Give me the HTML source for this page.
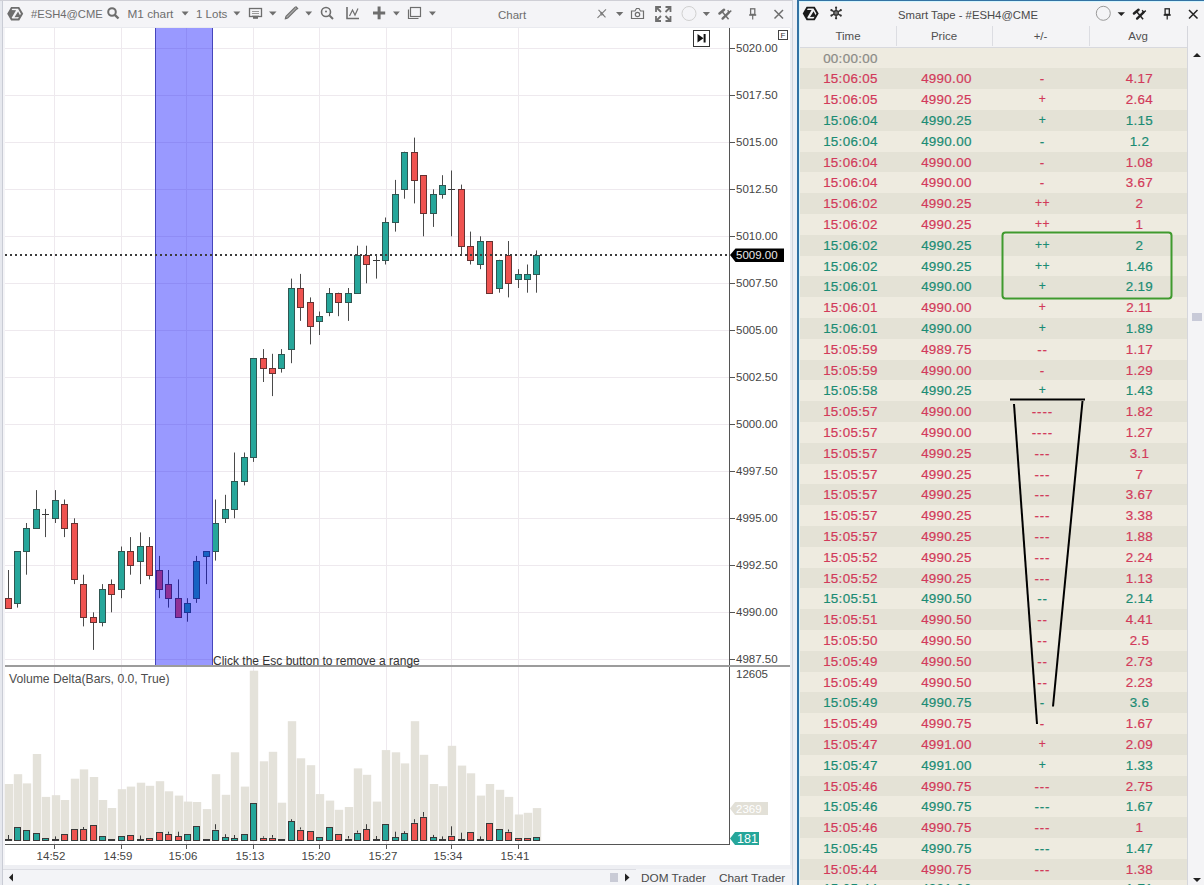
<!DOCTYPE html>
<html><head><meta charset="utf-8">
<style>
html,body{margin:0;padding:0;width:1204px;height:885px;overflow:hidden;background:#eef0f5;font-family:"Liberation Sans",sans-serif;}
svg{position:absolute;left:0;top:0}
.ax{font-family:"Liberation Sans",sans-serif;font-size:11.5px;fill:#444}
.tb{font-family:"Liberation Sans",sans-serif;font-size:11.5px;fill:#6d6d6d}
.ui{font-family:"Liberation Sans",sans-serif;font-size:12px}
#tape{position:absolute;left:797px;top:0;width:407px;height:885px;background:#f4f4f6;overflow:hidden}
#tape .bl{position:absolute;left:0;top:0;width:2px;height:885px;background:#3372a3}
#tape .bt{position:absolute;left:0;top:0;width:407px;height:1px;background:#3372a3}
#tape .ct{position:absolute;left:2px;top:1px;width:405px;height:1px;background:#d4f6ff}
#tape .cl{position:absolute;left:2px;top:1px;width:1px;height:884px;background:#d8f6ff}
.row{position:absolute;left:3px;width:388px;height:21px;font-size:13.4px;line-height:21px;letter-spacing:0.3px;-webkit-text-stroke:0.2px currentColor}
.row span{margin-left:2.4px}
.row span{position:absolute;top:0;width:96px;text-align:center}
.hdr{position:absolute;top:26px;height:21px;font-size:11.5px;color:#505050;line-height:21px;text-align:center}
.vd{position:absolute;top:26px;width:1px;height:20px;background:#dcdde2}
</style></head><body>
<svg width="797" height="885" viewBox="0 0 797 885">
<rect x="0" y="0" width="792" height="885" fill="#f4f4f7"/>
<rect x="0" y="0" width="2" height="885" fill="#e6e8ee"/>
<rect x="2" y="0" width="1" height="885" fill="#c9ccd5"/>
<rect x="0" y="0" width="792" height="1" fill="#cfcfd6"/>
<rect x="792" y="0" width="1" height="885" fill="#cfd4dc"/>
<rect x="790" y="28" width="2" height="837" fill="#eceef3"/>
<rect x="5" y="28" width="785" height="837" fill="#ffffff"/>
<rect x="3" y="27" width="787" height="1" fill="#e9eaef"/>
<rect x="3" y="865" width="789" height="20" fill="#f3f4f7"/>
<rect x="3" y="865" width="789" height="4" fill="#eeeff3"/>
<rect x="3" y="869" width="633" height="1" fill="#dcdde3"/>
<line x1="54.5" y1="28" x2="54.5" y2="665" stroke="#eee9ee" stroke-width="1"/>
<line x1="54.5" y1="667" x2="54.5" y2="844" stroke="#eee9ee" stroke-width="1"/>
<line x1="121.5" y1="28" x2="121.5" y2="665" stroke="#eee9ee" stroke-width="1"/>
<line x1="121.5" y1="667" x2="121.5" y2="844" stroke="#eee9ee" stroke-width="1"/>
<line x1="186.5" y1="28" x2="186.5" y2="665" stroke="#eee9ee" stroke-width="1"/>
<line x1="186.5" y1="667" x2="186.5" y2="844" stroke="#eee9ee" stroke-width="1"/>
<line x1="253.5" y1="28" x2="253.5" y2="665" stroke="#eee9ee" stroke-width="1"/>
<line x1="253.5" y1="667" x2="253.5" y2="844" stroke="#eee9ee" stroke-width="1"/>
<line x1="319.5" y1="28" x2="319.5" y2="665" stroke="#eee9ee" stroke-width="1"/>
<line x1="319.5" y1="667" x2="319.5" y2="844" stroke="#eee9ee" stroke-width="1"/>
<line x1="386.5" y1="28" x2="386.5" y2="665" stroke="#eee9ee" stroke-width="1"/>
<line x1="386.5" y1="667" x2="386.5" y2="844" stroke="#eee9ee" stroke-width="1"/>
<line x1="451.5" y1="28" x2="451.5" y2="665" stroke="#eee9ee" stroke-width="1"/>
<line x1="451.5" y1="667" x2="451.5" y2="844" stroke="#eee9ee" stroke-width="1"/>
<line x1="518.5" y1="28" x2="518.5" y2="665" stroke="#eee9ee" stroke-width="1"/>
<line x1="518.5" y1="667" x2="518.5" y2="844" stroke="#eee9ee" stroke-width="1"/>
<line x1="5" y1="48.5" x2="729" y2="48.5" stroke="#eee9ee" stroke-width="1"/>
<line x1="5" y1="95.5" x2="729" y2="95.5" stroke="#eee9ee" stroke-width="1"/>
<line x1="5" y1="142.5" x2="729" y2="142.5" stroke="#eee9ee" stroke-width="1"/>
<line x1="5" y1="189.5" x2="729" y2="189.5" stroke="#eee9ee" stroke-width="1"/>
<line x1="5" y1="236.5" x2="729" y2="236.5" stroke="#eee9ee" stroke-width="1"/>
<line x1="5" y1="283.5" x2="729" y2="283.5" stroke="#eee9ee" stroke-width="1"/>
<line x1="5" y1="330.5" x2="729" y2="330.5" stroke="#eee9ee" stroke-width="1"/>
<line x1="5" y1="377.5" x2="729" y2="377.5" stroke="#eee9ee" stroke-width="1"/>
<line x1="5" y1="424.5" x2="729" y2="424.5" stroke="#eee9ee" stroke-width="1"/>
<line x1="5" y1="471.5" x2="729" y2="471.5" stroke="#eee9ee" stroke-width="1"/>
<line x1="5" y1="518.5" x2="729" y2="518.5" stroke="#eee9ee" stroke-width="1"/>
<line x1="5" y1="565.5" x2="729" y2="565.5" stroke="#eee9ee" stroke-width="1"/>
<line x1="5" y1="612.5" x2="729" y2="612.5" stroke="#eee9ee" stroke-width="1"/>
<line x1="5" y1="659.5" x2="729" y2="659.5" stroke="#eee9ee" stroke-width="1"/>
<line x1="8.5" y1="570.0" x2="8.5" y2="607.6" stroke="#4a4a4a" stroke-width="1"/>
<rect x="5.5" y="598.5" width="6" height="10" fill="#ef5350" stroke="#663232" stroke-width="1"/>
<line x1="17.5" y1="551.2" x2="17.5" y2="607.6" stroke="#4a4a4a" stroke-width="1"/>
<rect x="14.5" y="551.5" width="6" height="52" fill="#26a69a" stroke="#2f5752" stroke-width="1"/>
<line x1="26.5" y1="523.0" x2="26.5" y2="574.7" stroke="#4a4a4a" stroke-width="1"/>
<rect x="23.5" y="528.5" width="6" height="23" fill="#26a69a" stroke="#2f5752" stroke-width="1"/>
<line x1="36.5" y1="490.1" x2="36.5" y2="527.7" stroke="#4a4a4a" stroke-width="1"/>
<rect x="33.5" y="509.5" width="6" height="19" fill="#26a69a" stroke="#2f5752" stroke-width="1"/>
<line x1="45.5" y1="508.9" x2="45.5" y2="537.1" stroke="#4a4a4a" stroke-width="1"/>
<line x1="42" y1="514.5" x2="49" y2="514.5" stroke="#3a3a3a" stroke-width="1"/>
<line x1="55.5" y1="490.1" x2="55.5" y2="523.0" stroke="#4a4a4a" stroke-width="1"/>
<rect x="52.5" y="500.5" width="6" height="18" fill="#26a69a" stroke="#2f5752" stroke-width="1"/>
<line x1="64.5" y1="499.5" x2="64.5" y2="537.1" stroke="#4a4a4a" stroke-width="1"/>
<rect x="61.5" y="504.5" width="6" height="24" fill="#ef5350" stroke="#663232" stroke-width="1"/>
<line x1="74.5" y1="518.3" x2="74.5" y2="584.1" stroke="#4a4a4a" stroke-width="1"/>
<rect x="71.5" y="523.5" width="6" height="56" fill="#ef5350" stroke="#663232" stroke-width="1"/>
<line x1="83.5" y1="574.7" x2="83.5" y2="626.4" stroke="#4a4a4a" stroke-width="1"/>
<rect x="80.5" y="584.5" width="6" height="33" fill="#ef5350" stroke="#663232" stroke-width="1"/>
<line x1="93.5" y1="612.3" x2="93.5" y2="649.9" stroke="#4a4a4a" stroke-width="1"/>
<rect x="90.5" y="617.5" width="6" height="5" fill="#ef5350" stroke="#663232" stroke-width="1"/>
<line x1="102.5" y1="584.1" x2="102.5" y2="626.4" stroke="#4a4a4a" stroke-width="1"/>
<rect x="99.5" y="589.5" width="6" height="33" fill="#26a69a" stroke="#2f5752" stroke-width="1"/>
<line x1="111.5" y1="579.4" x2="111.5" y2="612.3" stroke="#4a4a4a" stroke-width="1"/>
<rect x="108.5" y="584.5" width="6" height="10" fill="#ef5350" stroke="#663232" stroke-width="1"/>
<line x1="121.5" y1="546.5" x2="121.5" y2="598.2" stroke="#4a4a4a" stroke-width="1"/>
<rect x="118.5" y="551.5" width="6" height="38" fill="#26a69a" stroke="#2f5752" stroke-width="1"/>
<line x1="130.5" y1="537.1" x2="130.5" y2="574.7" stroke="#4a4a4a" stroke-width="1"/>
<rect x="127.5" y="551.5" width="6" height="14" fill="#ef5350" stroke="#663232" stroke-width="1"/>
<line x1="140.5" y1="532.4" x2="140.5" y2="584.1" stroke="#4a4a4a" stroke-width="1"/>
<rect x="137.5" y="546.5" width="6" height="15" fill="#26a69a" stroke="#2f5752" stroke-width="1"/>
<line x1="149.5" y1="537.1" x2="149.5" y2="579.4" stroke="#4a4a4a" stroke-width="1"/>
<rect x="146.5" y="546.5" width="6" height="29" fill="#ef5350" stroke="#663232" stroke-width="1"/>
<line x1="159.5" y1="555.9" x2="159.5" y2="598.2" stroke="#4a4a4a" stroke-width="1"/>
<rect x="156.5" y="570.5" width="6" height="19" fill="#ef5350" stroke="#663232" stroke-width="1"/>
<line x1="168.5" y1="570.0" x2="168.5" y2="607.6" stroke="#4a4a4a" stroke-width="1"/>
<rect x="165.5" y="584.5" width="6" height="14" fill="#ef5350" stroke="#663232" stroke-width="1"/>
<line x1="178.5" y1="579.4" x2="178.5" y2="617.0" stroke="#4a4a4a" stroke-width="1"/>
<rect x="175.5" y="598.5" width="6" height="19" fill="#ef5350" stroke="#663232" stroke-width="1"/>
<line x1="187.5" y1="598.2" x2="187.5" y2="621.7" stroke="#4a4a4a" stroke-width="1"/>
<rect x="184.5" y="603.5" width="6" height="9" fill="#26a69a" stroke="#2f5752" stroke-width="1"/>
<line x1="196.5" y1="555.9" x2="196.5" y2="602.9" stroke="#4a4a4a" stroke-width="1"/>
<rect x="193.5" y="561.5" width="6" height="37" fill="#26a69a" stroke="#2f5752" stroke-width="1"/>
<line x1="206.5" y1="551.2" x2="206.5" y2="584.1" stroke="#4a4a4a" stroke-width="1"/>
<rect x="203.5" y="551.5" width="6" height="5" fill="#26a69a" stroke="#2f5752" stroke-width="1"/>
<line x1="215.5" y1="499.5" x2="215.5" y2="560.6" stroke="#4a4a4a" stroke-width="1"/>
<rect x="212.5" y="523.5" width="6" height="28" fill="#26a69a" stroke="#2f5752" stroke-width="1"/>
<line x1="225.5" y1="494.8" x2="225.5" y2="523.0" stroke="#4a4a4a" stroke-width="1"/>
<rect x="222.5" y="509.5" width="6" height="9" fill="#26a69a" stroke="#2f5752" stroke-width="1"/>
<line x1="234.5" y1="452.5" x2="234.5" y2="518.3" stroke="#4a4a4a" stroke-width="1"/>
<rect x="231.5" y="481.5" width="6" height="28" fill="#26a69a" stroke="#2f5752" stroke-width="1"/>
<line x1="244.5" y1="452.5" x2="244.5" y2="485.4" stroke="#4a4a4a" stroke-width="1"/>
<rect x="241.5" y="457.5" width="6" height="24" fill="#26a69a" stroke="#2f5752" stroke-width="1"/>
<line x1="253.5" y1="358.5" x2="253.5" y2="461.9" stroke="#4a4a4a" stroke-width="1"/>
<rect x="250.5" y="358.5" width="6" height="99" fill="#26a69a" stroke="#2f5752" stroke-width="1"/>
<line x1="263.5" y1="349.1" x2="263.5" y2="382.0" stroke="#4a4a4a" stroke-width="1"/>
<rect x="260.5" y="358.5" width="6" height="10" fill="#ef5350" stroke="#663232" stroke-width="1"/>
<line x1="272.5" y1="353.8" x2="272.5" y2="396.1" stroke="#4a4a4a" stroke-width="1"/>
<rect x="269.5" y="368.5" width="6" height="5" fill="#ef5350" stroke="#663232" stroke-width="1"/>
<line x1="281.5" y1="349.1" x2="281.5" y2="372.6" stroke="#4a4a4a" stroke-width="1"/>
<rect x="278.5" y="354.5" width="6" height="14" fill="#26a69a" stroke="#2f5752" stroke-width="1"/>
<line x1="291.5" y1="278.6" x2="291.5" y2="363.2" stroke="#4a4a4a" stroke-width="1"/>
<rect x="288.5" y="288.5" width="6" height="61" fill="#26a69a" stroke="#2f5752" stroke-width="1"/>
<line x1="300.5" y1="273.9" x2="300.5" y2="320.9" stroke="#4a4a4a" stroke-width="1"/>
<rect x="297.5" y="288.5" width="6" height="19" fill="#ef5350" stroke="#663232" stroke-width="1"/>
<line x1="310.5" y1="297.4" x2="310.5" y2="344.4" stroke="#4a4a4a" stroke-width="1"/>
<rect x="307.5" y="302.5" width="6" height="24" fill="#ef5350" stroke="#663232" stroke-width="1"/>
<line x1="319.5" y1="311.5" x2="319.5" y2="335.0" stroke="#4a4a4a" stroke-width="1"/>
<rect x="316.5" y="316.5" width="6" height="5" fill="#26a69a" stroke="#2f5752" stroke-width="1"/>
<line x1="329.5" y1="288.0" x2="329.5" y2="316.2" stroke="#4a4a4a" stroke-width="1"/>
<rect x="326.5" y="293.5" width="6" height="19" fill="#26a69a" stroke="#2f5752" stroke-width="1"/>
<line x1="338.5" y1="292.7" x2="338.5" y2="316.2" stroke="#4a4a4a" stroke-width="1"/>
<rect x="335.5" y="293.5" width="6" height="9" fill="#ef5350" stroke="#663232" stroke-width="1"/>
<line x1="348.5" y1="288.0" x2="348.5" y2="320.9" stroke="#4a4a4a" stroke-width="1"/>
<rect x="345.5" y="293.5" width="6" height="9" fill="#26a69a" stroke="#2f5752" stroke-width="1"/>
<line x1="357.5" y1="245.7" x2="357.5" y2="292.7" stroke="#4a4a4a" stroke-width="1"/>
<rect x="354.5" y="255.5" width="6" height="38" fill="#26a69a" stroke="#2f5752" stroke-width="1"/>
<line x1="366.5" y1="245.7" x2="366.5" y2="283.3" stroke="#4a4a4a" stroke-width="1"/>
<rect x="363.5" y="255.5" width="6" height="9" fill="#ef5350" stroke="#663232" stroke-width="1"/>
<line x1="376.5" y1="255.1" x2="376.5" y2="278.6" stroke="#4a4a4a" stroke-width="1"/>
<line x1="373" y1="260.5" x2="380" y2="260.5" stroke="#3a3a3a" stroke-width="1"/>
<line x1="385.5" y1="217.5" x2="385.5" y2="264.5" stroke="#4a4a4a" stroke-width="1"/>
<rect x="382.5" y="222.5" width="6" height="38" fill="#26a69a" stroke="#2f5752" stroke-width="1"/>
<line x1="395.5" y1="179.9" x2="395.5" y2="231.6" stroke="#4a4a4a" stroke-width="1"/>
<rect x="392.5" y="194.5" width="6" height="28" fill="#26a69a" stroke="#2f5752" stroke-width="1"/>
<line x1="404.5" y1="151.7" x2="404.5" y2="198.7" stroke="#4a4a4a" stroke-width="1"/>
<rect x="401.5" y="152.5" width="6" height="37" fill="#26a69a" stroke="#2f5752" stroke-width="1"/>
<line x1="414.5" y1="137.6" x2="414.5" y2="203.4" stroke="#4a4a4a" stroke-width="1"/>
<rect x="411.5" y="152.5" width="6" height="28" fill="#ef5350" stroke="#663232" stroke-width="1"/>
<line x1="423.5" y1="175.2" x2="423.5" y2="236.3" stroke="#4a4a4a" stroke-width="1"/>
<rect x="420.5" y="175.5" width="6" height="38" fill="#ef5350" stroke="#663232" stroke-width="1"/>
<line x1="433.5" y1="189.3" x2="433.5" y2="226.9" stroke="#4a4a4a" stroke-width="1"/>
<rect x="430.5" y="194.5" width="6" height="19" fill="#26a69a" stroke="#2f5752" stroke-width="1"/>
<line x1="442.5" y1="175.2" x2="442.5" y2="198.7" stroke="#4a4a4a" stroke-width="1"/>
<rect x="439.5" y="185.5" width="6" height="9" fill="#26a69a" stroke="#2f5752" stroke-width="1"/>
<line x1="451.5" y1="170.5" x2="451.5" y2="236.3" stroke="#4a4a4a" stroke-width="1"/>
<line x1="448" y1="189.5" x2="455" y2="189.5" stroke="#3a3a3a" stroke-width="1"/>
<line x1="461.5" y1="184.6" x2="461.5" y2="255.1" stroke="#4a4a4a" stroke-width="1"/>
<rect x="458.5" y="189.5" width="6" height="57" fill="#ef5350" stroke="#663232" stroke-width="1"/>
<line x1="470.5" y1="231.6" x2="470.5" y2="264.5" stroke="#4a4a4a" stroke-width="1"/>
<rect x="467.5" y="246.5" width="6" height="14" fill="#ef5350" stroke="#663232" stroke-width="1"/>
<line x1="480.5" y1="236.3" x2="480.5" y2="269.2" stroke="#4a4a4a" stroke-width="1"/>
<rect x="477.5" y="241.5" width="6" height="23" fill="#26a69a" stroke="#2f5752" stroke-width="1"/>
<line x1="489.5" y1="241.0" x2="489.5" y2="292.7" stroke="#4a4a4a" stroke-width="1"/>
<rect x="486.5" y="241.5" width="6" height="52" fill="#ef5350" stroke="#663232" stroke-width="1"/>
<line x1="499.5" y1="259.8" x2="499.5" y2="292.7" stroke="#4a4a4a" stroke-width="1"/>
<rect x="496.5" y="260.5" width="6" height="28" fill="#26a69a" stroke="#2f5752" stroke-width="1"/>
<line x1="508.5" y1="241.0" x2="508.5" y2="297.4" stroke="#4a4a4a" stroke-width="1"/>
<rect x="505.5" y="255.5" width="6" height="28" fill="#ef5350" stroke="#663232" stroke-width="1"/>
<line x1="518.5" y1="269.2" x2="518.5" y2="288.0" stroke="#4a4a4a" stroke-width="1"/>
<rect x="515.5" y="274.5" width="6" height="5" fill="#26a69a" stroke="#2f5752" stroke-width="1"/>
<line x1="527.5" y1="264.5" x2="527.5" y2="292.7" stroke="#4a4a4a" stroke-width="1"/>
<rect x="524.5" y="274.5" width="6" height="5" fill="#26a69a" stroke="#2f5752" stroke-width="1"/>
<line x1="536.5" y1="250.4" x2="536.5" y2="292.7" stroke="#4a4a4a" stroke-width="1"/>
<rect x="533.5" y="255.5" width="6" height="19" fill="#26a69a" stroke="#2f5752" stroke-width="1"/>
<rect x="155" y="28" width="58" height="637" fill="#0000ff" fill-opacity="0.4"/>
<line x1="155.5" y1="28" x2="155.5" y2="665" stroke="#4646bc" stroke-width="1"/>
<line x1="212.5" y1="28" x2="212.5" y2="665" stroke="#4646bc" stroke-width="1"/>
<line x1="5" y1="255" x2="729" y2="255" stroke="#3c3c3c" stroke-width="2" stroke-dasharray="2,3"/>
<line x1="729.5" y1="28" x2="729.5" y2="844" stroke="#555" stroke-width="1"/>
<line x1="730" y1="48.5" x2="735" y2="48.5" stroke="#555" stroke-width="1"/>
<text x="736" y="51.7" class="ax">5020.00</text>
<line x1="730" y1="95.5" x2="735" y2="95.5" stroke="#555" stroke-width="1"/>
<text x="736" y="98.7" class="ax">5017.50</text>
<line x1="730" y1="142.5" x2="735" y2="142.5" stroke="#555" stroke-width="1"/>
<text x="736" y="145.7" class="ax">5015.00</text>
<line x1="730" y1="189.5" x2="735" y2="189.5" stroke="#555" stroke-width="1"/>
<text x="736" y="192.7" class="ax">5012.50</text>
<line x1="730" y1="236.5" x2="735" y2="236.5" stroke="#555" stroke-width="1"/>
<text x="736" y="239.7" class="ax">5010.00</text>
<line x1="730" y1="283.5" x2="735" y2="283.5" stroke="#555" stroke-width="1"/>
<text x="736" y="286.7" class="ax">5007.50</text>
<line x1="730" y1="330.5" x2="735" y2="330.5" stroke="#555" stroke-width="1"/>
<text x="736" y="333.7" class="ax">5005.00</text>
<line x1="730" y1="377.5" x2="735" y2="377.5" stroke="#555" stroke-width="1"/>
<text x="736" y="380.7" class="ax">5002.50</text>
<line x1="730" y1="424.5" x2="735" y2="424.5" stroke="#555" stroke-width="1"/>
<text x="736" y="427.7" class="ax">5000.00</text>
<line x1="730" y1="471.5" x2="735" y2="471.5" stroke="#555" stroke-width="1"/>
<text x="736" y="474.7" class="ax">4997.50</text>
<line x1="730" y1="518.5" x2="735" y2="518.5" stroke="#555" stroke-width="1"/>
<text x="736" y="521.7" class="ax">4995.00</text>
<line x1="730" y1="565.5" x2="735" y2="565.5" stroke="#555" stroke-width="1"/>
<text x="736" y="568.7" class="ax">4992.50</text>
<line x1="730" y1="612.5" x2="735" y2="612.5" stroke="#555" stroke-width="1"/>
<text x="736" y="615.7" class="ax">4990.00</text>
<line x1="730" y1="659.5" x2="735" y2="659.5" stroke="#555" stroke-width="1"/>
<text x="736" y="662.7" class="ax">4987.50</text>
<path d="M730,255 L735.5,248.5 L784,248.5 L784,262 L735.5,262 Z" fill="#000"/>
<text x="736" y="258.8" class="ax" style="fill:#e8e8e8">5009.00</text>
<rect x="5" y="665" width="785" height="2" fill="#9c9c9c"/>
<text x="213" y="664.5" class="ax" style="font-size:12px;fill:#333">Click the Esc button to remove a range</text>
<text x="9" y="682.5" class="ax" style="font-size:12.2px;fill:#4d4d4d">Volume Delta(Bars, 0.0, True)</text>
<text x="736" y="678.3" class="ax">12605</text>
<rect x="4.8" y="784.0" width="8.4" height="57.0" fill="#e4e2da"/>
<rect x="13.8" y="774.2" width="8.4" height="66.8" fill="#e4e2da"/>
<rect x="22.8" y="783.4" width="8.4" height="57.6" fill="#e4e2da"/>
<rect x="32.8" y="754.0" width="8.4" height="87.0" fill="#e4e2da"/>
<rect x="41.8" y="796.9" width="8.4" height="44.1" fill="#e4e2da"/>
<rect x="51.8" y="795.2" width="8.4" height="45.8" fill="#e4e2da"/>
<rect x="60.8" y="800.0" width="8.4" height="41.0" fill="#e4e2da"/>
<rect x="70.8" y="778.7" width="8.4" height="62.3" fill="#e4e2da"/>
<rect x="79.8" y="769.4" width="8.4" height="71.6" fill="#e4e2da"/>
<rect x="89.8" y="777.0" width="8.4" height="64.0" fill="#e4e2da"/>
<rect x="98.8" y="800.0" width="8.4" height="41.0" fill="#e4e2da"/>
<rect x="107.8" y="808.0" width="8.4" height="33.0" fill="#e4e2da"/>
<rect x="117.8" y="789.2" width="8.4" height="51.8" fill="#e4e2da"/>
<rect x="126.8" y="786.6" width="8.4" height="54.4" fill="#e4e2da"/>
<rect x="136.8" y="782.7" width="8.4" height="58.3" fill="#e4e2da"/>
<rect x="145.8" y="785.8" width="8.4" height="55.2" fill="#e4e2da"/>
<rect x="155.8" y="781.2" width="8.4" height="59.8" fill="#e4e2da"/>
<rect x="164.8" y="791.3" width="8.4" height="49.7" fill="#e4e2da"/>
<rect x="174.8" y="795.6" width="8.4" height="45.4" fill="#e4e2da"/>
<rect x="183.8" y="801.6" width="8.4" height="39.4" fill="#e4e2da"/>
<rect x="192.8" y="802.0" width="8.4" height="39.0" fill="#e4e2da"/>
<rect x="202.8" y="809.1" width="8.4" height="31.9" fill="#e4e2da"/>
<rect x="211.8" y="774.2" width="8.4" height="66.8" fill="#e4e2da"/>
<rect x="221.8" y="794.8" width="8.4" height="46.2" fill="#e4e2da"/>
<rect x="230.8" y="752.3" width="8.4" height="88.7" fill="#e4e2da"/>
<rect x="240.8" y="786.6" width="8.4" height="54.4" fill="#e4e2da"/>
<rect x="249.8" y="670.7" width="8.4" height="170.3" fill="#e4e2da"/>
<rect x="259.8" y="761.3" width="8.4" height="79.7" fill="#e4e2da"/>
<rect x="268.8" y="751.8" width="8.4" height="89.2" fill="#e4e2da"/>
<rect x="277.8" y="802.7" width="8.4" height="38.3" fill="#e4e2da"/>
<rect x="287.8" y="721.2" width="8.4" height="119.8" fill="#e4e2da"/>
<rect x="296.8" y="758.3" width="8.4" height="82.7" fill="#e4e2da"/>
<rect x="306.8" y="765.2" width="8.4" height="75.8" fill="#e4e2da"/>
<rect x="315.8" y="794.1" width="8.4" height="46.9" fill="#e4e2da"/>
<rect x="325.8" y="800.6" width="8.4" height="40.4" fill="#e4e2da"/>
<rect x="334.8" y="809.8" width="8.4" height="31.2" fill="#e4e2da"/>
<rect x="344.8" y="807.0" width="8.4" height="34.0" fill="#e4e2da"/>
<rect x="353.8" y="768.4" width="8.4" height="72.6" fill="#e4e2da"/>
<rect x="362.8" y="774.8" width="8.4" height="66.2" fill="#e4e2da"/>
<rect x="372.8" y="801.6" width="8.4" height="39.4" fill="#e4e2da"/>
<rect x="381.8" y="750.1" width="8.4" height="90.9" fill="#e4e2da"/>
<rect x="391.8" y="752.3" width="8.4" height="88.7" fill="#e4e2da"/>
<rect x="400.8" y="763.4" width="8.4" height="77.6" fill="#e4e2da"/>
<rect x="410.8" y="721.2" width="8.4" height="119.8" fill="#e4e2da"/>
<rect x="419.8" y="754.8" width="8.4" height="86.2" fill="#e4e2da"/>
<rect x="429.8" y="784.0" width="8.4" height="57.0" fill="#e4e2da"/>
<rect x="438.8" y="786.2" width="8.4" height="54.8" fill="#e4e2da"/>
<rect x="447.8" y="745.8" width="8.4" height="95.2" fill="#e4e2da"/>
<rect x="457.8" y="765.6" width="8.4" height="75.4" fill="#e4e2da"/>
<rect x="466.8" y="773.3" width="8.4" height="67.7" fill="#e4e2da"/>
<rect x="476.8" y="795.6" width="8.4" height="45.4" fill="#e4e2da"/>
<rect x="485.8" y="784.0" width="8.4" height="57.0" fill="#e4e2da"/>
<rect x="495.8" y="789.8" width="8.4" height="51.2" fill="#e4e2da"/>
<rect x="504.8" y="796.9" width="8.4" height="44.1" fill="#e4e2da"/>
<rect x="514.8" y="814.5" width="8.4" height="26.5" fill="#e4e2da"/>
<rect x="523.8" y="812.8" width="8.4" height="28.2" fill="#e4e2da"/>
<rect x="532.8" y="808.1" width="8.4" height="32.9" fill="#e4e2da"/>
<line x1="8.5" y1="835" x2="8.5" y2="839" stroke="#3a3a3a" stroke-width="1"/>
<rect x="5" y="839" width="7" height="2" fill="#3a3a3a"/>
<rect x="14.5" y="827.5" width="6" height="13.0" fill="#26a69a" stroke="#3a3a3a" stroke-width="1"/>
<rect x="23.5" y="830.5" width="6" height="10.0" fill="#26a69a" stroke="#3a3a3a" stroke-width="1"/>
<rect x="33.5" y="833.5" width="6" height="7.0" fill="#26a69a" stroke="#3a3a3a" stroke-width="1"/>
<rect x="42.5" y="838.5" width="6" height="2.0" fill="#26a69a" stroke="#3a3a3a" stroke-width="1"/>
<line x1="55.5" y1="836.4" x2="55.5" y2="839" stroke="#3a3a3a" stroke-width="1"/>
<rect x="52" y="839" width="7" height="2" fill="#3a3a3a"/>
<rect x="61.5" y="834.5" width="6" height="6.0" fill="#ef5350" stroke="#3a3a3a" stroke-width="1"/>
<rect x="71.5" y="829.5" width="6" height="11.0" fill="#ef5350" stroke="#3a3a3a" stroke-width="1"/>
<line x1="83.5" y1="827" x2="83.5" y2="829.1" stroke="#3a3a3a" stroke-width="1"/>
<rect x="80.5" y="829.5" width="6" height="11.0" fill="#ef5350" stroke="#3a3a3a" stroke-width="1"/>
<rect x="90.5" y="825.5" width="6" height="15.0" fill="#ef5350" stroke="#3a3a3a" stroke-width="1"/>
<rect x="99.5" y="836.5" width="6" height="4.0" fill="#26a69a" stroke="#3a3a3a" stroke-width="1"/>
<rect x="108" y="839" width="7" height="2" fill="#3a3a3a"/>
<rect x="118.5" y="836.5" width="6" height="4.0" fill="#26a69a" stroke="#3a3a3a" stroke-width="1"/>
<rect x="127.5" y="835.5" width="6" height="5.0" fill="#ef5350" stroke="#3a3a3a" stroke-width="1"/>
<line x1="140.5" y1="835.5" x2="140.5" y2="839.5" stroke="#3a3a3a" stroke-width="1"/>
<rect x="137" y="839" width="7" height="2" fill="#3a3a3a"/>
<rect x="146.5" y="838.5" width="6" height="2.0" fill="#ef5350" stroke="#3a3a3a" stroke-width="1"/>
<rect x="156.5" y="832.5" width="6" height="8.0" fill="#ef5350" stroke="#3a3a3a" stroke-width="1"/>
<line x1="168.5" y1="831.7" x2="168.5" y2="833.8" stroke="#3a3a3a" stroke-width="1"/>
<rect x="165.5" y="834.5" width="6" height="6.0" fill="#ef5350" stroke="#3a3a3a" stroke-width="1"/>
<line x1="178.5" y1="831.7" x2="178.5" y2="836.4" stroke="#3a3a3a" stroke-width="1"/>
<rect x="175.5" y="836.5" width="6" height="4.0" fill="#ef5350" stroke="#3a3a3a" stroke-width="1"/>
<rect x="184.5" y="834.5" width="6" height="6.0" fill="#26a69a" stroke="#3a3a3a" stroke-width="1"/>
<rect x="193.5" y="826.5" width="6" height="14.0" fill="#26a69a" stroke="#3a3a3a" stroke-width="1"/>
<rect x="203" y="839" width="7" height="2" fill="#3a3a3a"/>
<line x1="215.5" y1="824.2" x2="215.5" y2="829.5" stroke="#3a3a3a" stroke-width="1"/>
<rect x="212.5" y="830.5" width="6" height="10.0" fill="#26a69a" stroke="#3a3a3a" stroke-width="1"/>
<line x1="225.5" y1="834.2" x2="225.5" y2="837.3" stroke="#3a3a3a" stroke-width="1"/>
<rect x="222.5" y="837.5" width="6" height="3.0" fill="#26a69a" stroke="#3a3a3a" stroke-width="1"/>
<line x1="234.5" y1="835" x2="234.5" y2="838" stroke="#3a3a3a" stroke-width="1"/>
<rect x="231.5" y="838.5" width="6" height="2.0" fill="#26a69a" stroke="#3a3a3a" stroke-width="1"/>
<rect x="241.5" y="834.5" width="6" height="6.0" fill="#26a69a" stroke="#3a3a3a" stroke-width="1"/>
<rect x="250.5" y="803.5" width="6" height="37.0" fill="#26a69a" stroke="#3a3a3a" stroke-width="1"/>
<line x1="263.5" y1="836.4" x2="263.5" y2="837.7" stroke="#3a3a3a" stroke-width="1"/>
<rect x="260.5" y="838.5" width="6" height="2.0" fill="#ef5350" stroke="#3a3a3a" stroke-width="1"/>
<line x1="272.5" y1="835" x2="272.5" y2="837.7" stroke="#3a3a3a" stroke-width="1"/>
<rect x="269.5" y="838.5" width="6" height="2.0" fill="#ef5350" stroke="#3a3a3a" stroke-width="1"/>
<rect x="278" y="839" width="7" height="2" fill="#3a3a3a"/>
<line x1="291.5" y1="819.2" x2="291.5" y2="821" stroke="#3a3a3a" stroke-width="1"/>
<rect x="288.5" y="821.5" width="6" height="19.0" fill="#26a69a" stroke="#3a3a3a" stroke-width="1"/>
<line x1="300.5" y1="827.4" x2="300.5" y2="829.5" stroke="#3a3a3a" stroke-width="1"/>
<rect x="297.5" y="830.5" width="6" height="10.0" fill="#ef5350" stroke="#3a3a3a" stroke-width="1"/>
<rect x="307.5" y="831.5" width="6" height="9.0" fill="#ef5350" stroke="#3a3a3a" stroke-width="1"/>
<rect x="316.5" y="837.5" width="6" height="3.0" fill="#26a69a" stroke="#3a3a3a" stroke-width="1"/>
<rect x="326.5" y="827.5" width="6" height="13.0" fill="#26a69a" stroke="#3a3a3a" stroke-width="1"/>
<rect x="335.5" y="834.5" width="6" height="6.0" fill="#ef5350" stroke="#3a3a3a" stroke-width="1"/>
<line x1="348.5" y1="836" x2="348.5" y2="838.5" stroke="#3a3a3a" stroke-width="1"/>
<rect x="345" y="839" width="7" height="2" fill="#3a3a3a"/>
<line x1="357.5" y1="830.6" x2="357.5" y2="832.7" stroke="#3a3a3a" stroke-width="1"/>
<rect x="354.5" y="833.5" width="6" height="7.0" fill="#26a69a" stroke="#3a3a3a" stroke-width="1"/>
<line x1="366.5" y1="824.2" x2="366.5" y2="829.1" stroke="#3a3a3a" stroke-width="1"/>
<rect x="363.5" y="829.5" width="6" height="11.0" fill="#ef5350" stroke="#3a3a3a" stroke-width="1"/>
<line x1="376.5" y1="836" x2="376.5" y2="839.5" stroke="#3a3a3a" stroke-width="1"/>
<rect x="373" y="839" width="7" height="2" fill="#3a3a3a"/>
<rect x="382.5" y="824.5" width="6" height="16.0" fill="#26a69a" stroke="#3a3a3a" stroke-width="1"/>
<line x1="395.5" y1="831.7" x2="395.5" y2="837.3" stroke="#3a3a3a" stroke-width="1"/>
<rect x="392.5" y="837.5" width="6" height="3.0" fill="#26a69a" stroke="#3a3a3a" stroke-width="1"/>
<line x1="404.5" y1="831.2" x2="404.5" y2="833.4" stroke="#3a3a3a" stroke-width="1"/>
<rect x="401.5" y="833.5" width="6" height="7.0" fill="#26a69a" stroke="#3a3a3a" stroke-width="1"/>
<line x1="414.5" y1="819.2" x2="414.5" y2="822.7" stroke="#3a3a3a" stroke-width="1"/>
<rect x="411.5" y="823.5" width="6" height="17.0" fill="#ef5350" stroke="#3a3a3a" stroke-width="1"/>
<line x1="423.5" y1="812" x2="423.5" y2="816.7" stroke="#3a3a3a" stroke-width="1"/>
<rect x="420.5" y="817.5" width="6" height="23.0" fill="#ef5350" stroke="#3a3a3a" stroke-width="1"/>
<line x1="433.5" y1="834.9" x2="433.5" y2="837.3" stroke="#3a3a3a" stroke-width="1"/>
<rect x="430.5" y="837.5" width="6" height="3.0" fill="#26a69a" stroke="#3a3a3a" stroke-width="1"/>
<line x1="442.5" y1="836.4" x2="442.5" y2="839" stroke="#3a3a3a" stroke-width="1"/>
<rect x="439" y="839" width="7" height="2" fill="#3a3a3a"/>
<line x1="451.5" y1="826.3" x2="451.5" y2="835.5" stroke="#3a3a3a" stroke-width="1"/>
<rect x="448.5" y="836.5" width="6" height="4.0" fill="#ef5350" stroke="#3a3a3a" stroke-width="1"/>
<line x1="461.5" y1="832.7" x2="461.5" y2="839.5" stroke="#3a3a3a" stroke-width="1"/>
<rect x="458" y="839" width="7" height="2" fill="#3a3a3a"/>
<rect x="467.5" y="832.5" width="6" height="8.0" fill="#ef5350" stroke="#3a3a3a" stroke-width="1"/>
<line x1="480.5" y1="836.4" x2="480.5" y2="839" stroke="#3a3a3a" stroke-width="1"/>
<rect x="477" y="839" width="7" height="2" fill="#3a3a3a"/>
<rect x="486.5" y="823.5" width="6" height="17.0" fill="#ef5350" stroke="#3a3a3a" stroke-width="1"/>
<rect x="496.5" y="829.5" width="6" height="11.0" fill="#26a69a" stroke="#3a3a3a" stroke-width="1"/>
<line x1="508.5" y1="829.5" x2="508.5" y2="831.7" stroke="#3a3a3a" stroke-width="1"/>
<rect x="505.5" y="832.5" width="6" height="8.0" fill="#ef5350" stroke="#3a3a3a" stroke-width="1"/>
<rect x="515.5" y="838.5" width="6" height="2.0" fill="#ef5350" stroke="#3a3a3a" stroke-width="1"/>
<rect x="524.5" y="838.5" width="6" height="2.0" fill="#ef5350" stroke="#3a3a3a" stroke-width="1"/>
<rect x="533.5" y="837.5" width="6" height="3.0" fill="#26a69a" stroke="#3a3a3a" stroke-width="1"/>
<line x1="5" y1="844.5" x2="730" y2="844.5" stroke="#555" stroke-width="1"/>
<line x1="54.5" y1="845" x2="54.5" y2="849" stroke="#555" stroke-width="1"/>
<text x="51.0" y="860" class="ax" text-anchor="middle">14:52</text>
<line x1="121.5" y1="845" x2="121.5" y2="849" stroke="#555" stroke-width="1"/>
<text x="118.0" y="860" class="ax" text-anchor="middle">14:59</text>
<line x1="186.5" y1="845" x2="186.5" y2="849" stroke="#555" stroke-width="1"/>
<text x="183.0" y="860" class="ax" text-anchor="middle">15:06</text>
<line x1="253.5" y1="845" x2="253.5" y2="849" stroke="#555" stroke-width="1"/>
<text x="250.0" y="860" class="ax" text-anchor="middle">15:13</text>
<line x1="319.5" y1="845" x2="319.5" y2="849" stroke="#555" stroke-width="1"/>
<text x="316.0" y="860" class="ax" text-anchor="middle">15:20</text>
<line x1="386.5" y1="845" x2="386.5" y2="849" stroke="#555" stroke-width="1"/>
<text x="383.0" y="860" class="ax" text-anchor="middle">15:27</text>
<line x1="451.5" y1="845" x2="451.5" y2="849" stroke="#555" stroke-width="1"/>
<text x="448.0" y="860" class="ax" text-anchor="middle">15:34</text>
<line x1="518.5" y1="845" x2="518.5" y2="849" stroke="#555" stroke-width="1"/>
<text x="515.0" y="860" class="ax" text-anchor="middle">15:41</text>
<path d="M730,808.5 L735,802 L768,802 L768,815 L735,815 Z" fill="#e2e0d7"/>
<text x="736" y="812.6" class="ax" style="fill:#fff">2369</text>
<path d="M730,838.5 L735,832 L759,832 L759,845 L735,845 Z" fill="#26a69a"/>
<text x="737" y="842.6" class="ax" style="fill:#fff;font-size:12.5px">181</text>
<path d="M9,877.5 L13,873.5 L13,881.5 Z" fill="#222"/>
<rect x="610" y="873" width="8" height="9" fill="#c9cbd6"/>
<path d="M625,873.5 L629.5,877.5 L625,881.5 Z" fill="#222"/>
<text x="641" y="881.5" class="ui" style="font-size:11.8px;fill:#4a4a4a">DOM Trader</text>
<text x="719" y="881.5" class="ui" style="font-size:11.8px;fill:#4a4a4a">Chart Trader</text>
<rect x="693.5" y="30.5" width="16" height="16" fill="#fff" stroke="#333" stroke-width="1"/>
<path d="M697.5,34 L703.5,38.2 L697.5,42.5 Z" fill="#111"/><rect x="703.6" y="34" width="2" height="8.5" fill="#111"/>
<rect x="778.5" y="30.5" width="9" height="9" fill="#fff" stroke="#444" stroke-width="1"/>
<text x="780.5" y="38" style="font-size:8px" fill="#333">F</text>
<text x="31" y="18" class="tb" style="font-size:11.2px">#ESH4@CME</text>
<text x="127.5" y="18" class="tb" style="font-size:11.8px">M1 chart</text>
<text x="196" y="18" class="tb">1 Lots</text>
<text x="498" y="19" class="tb" fill="#888">Chart</text>
<polygon points="7.20,13.70 11.10,6.90 19.20,6.90 23.20,13.70 19.20,20.50 11.10,20.50" fill="#6e6e6e"/>
<polygon points="9.50,13.70 12.30,8.80 18.00,8.80 20.90,13.70 18.00,18.60 12.30,18.60" fill="#f4f4f7"/>
<polygon points="8.20,13.70 10.50,10.10 16.10,10.20 11.80,17.60 10.80,17.60" fill="#6e6e6e"/>
<polygon points="18.10,11.50 14.50,17.30 20.80,16.90" fill="#6e6e6e"/>
<circle cx="112" cy="12" r="3.8" fill="none" stroke="#6e6e6e" stroke-width="2"/><line x1="114.8" y1="14.8" x2="118.5" y2="18.5" stroke="#6e6e6e" stroke-width="2.4"/>
<path d="M181.6,11.5 L188.6,11.5 L185.1,15.5 Z" fill="#6e6e6e"/>
<path d="M233.4,11.5 L240.3,11.5 L236.85000000000002,15.5 Z" fill="#6e6e6e"/>
<rect x="249.5" y="8.5" width="12" height="8" fill="none" stroke="#6e6e6e" stroke-width="1.3"/><rect x="252" y="11" width="7" height="1" fill="#9a9a9a"/><rect x="252" y="13" width="7" height="1" fill="#9a9a9a"/><rect x="252" y="15" width="7" height="0.8" fill="#b5b5b5"/><rect x="253" y="17" width="5" height="1.8" fill="#6e6e6e"/>
<path d="M269,11.5 L276.5,11.5 L272.75,15.5 Z" fill="#6e6e6e"/>
<path d="M286.5,17.5 L296,8" stroke="#6e6e6e" stroke-width="3.6" stroke-linecap="butt"/><path d="M286.5,17.5 L296,8" stroke="#a8a8a8" stroke-width="1.2"/><path d="M284.6,19.4 L285.3,16.2 L287.8,18.7 Z" fill="#6e6e6e"/><path d="M295.5,6.5 L298,9" stroke="#6e6e6e" stroke-width="1.5"/>
<path d="M305.3,11.5 L312.1,11.5 L308.70000000000005,15.5 Z" fill="#6e6e6e"/>
<circle cx="326" cy="12" r="4.5" fill="none" stroke="#6e6e6e" stroke-width="1.6"/><line x1="329.5" y1="15.5" x2="333" y2="19" stroke="#6e6e6e" stroke-width="2"/><circle cx="326" cy="11.5" r="1" fill="#6e6e6e"/>
<path d="M347,7 L347,18.5 L359,18.5" fill="none" stroke="#6e6e6e" stroke-width="1.6"/><path d="M349.5,16 L352.5,10 L355,15 L358,8.5" fill="none" stroke="#6e6e6e" stroke-width="1.2"/>
<rect x="373" y="11.5" width="12.2" height="3" fill="#6e6e6e"/><rect x="377.6" y="6.5" width="3" height="12.8" fill="#6e6e6e"/>
<path d="M393,11.5 L399.8,11.5 L396.4,15.5 Z" fill="#6e6e6e"/>
<rect x="410.5" y="7.5" width="10" height="9" fill="none" stroke="#6e6e6e" stroke-width="1.2"/><path d="M408.5,9.5 L408.5,18.5 L418.5,18.5" fill="none" stroke="#6e6e6e" stroke-width="1.2"/>
<path d="M429,11.5 L435.9,11.5 L432.45,15.5 Z" fill="#6e6e6e"/>
<g stroke="#7a7a7a" stroke-width="1.1" fill="none"><path d="M597.5,17.8 L606,9.3"/><path d="M598.5,9.8 L605.5,17.3"/><path d="M600,13 L601.5,13.4 L601.8,11.8"/><path d="M603.5,14.5 L602,14 L601.7,15.6"/></g>
<path d="M616,12 L623.3,12 L619.65,16 Z" fill="#6e6e6e"/>
<path d="M631.5,11 L635,11 L636.5,8.5 L639,8.5 L640.5,11 L643.5,11 L643.5,18.5 L631.5,18.5 Z" fill="none" stroke="#6e6e6e" stroke-width="1.2"/><circle cx="637.5" cy="14.5" r="2.2" fill="none" stroke="#6e6e6e" stroke-width="1.2"/>
<g stroke="#6e6e6e" stroke-width="1.8" fill="none"><path d="M656,12 L656,7 L661,7 M656,7 L661,12"/><path d="M670.5,12 L670.5,7 L665.5,7 M670.5,7 L665.5,12"/><path d="M656,16 L656,21 L661,21 M656,21 L661,16"/><path d="M670.5,16 L670.5,21 L665.5,21 M670.5,21 L665.5,16"/></g>
<circle cx="689" cy="13.5" r="7" fill="none" stroke="#d0d0d0" stroke-width="1"/>
<path d="M702.8,12 L710,12 L706.4,16 Z" fill="#6e6e6e"/>
<g transform="translate(0,0)"><path d="M719.5,13.4 L724,9.8" stroke="#6e6e6e" stroke-width="2.6" stroke-linecap="round"/><path d="M722,11.5 L728.6,19.2" stroke="#6e6e6e" stroke-width="1.5"/><path d="M722.6,18.6 L729,12.4" stroke="#6e6e6e" stroke-width="2.4" stroke-linecap="round"/><path d="M727.6,10.2 L729.3,12.2 L731.3,10.6" stroke="#6e6e6e" stroke-width="1.4" fill="none"/><rect x="750.6" y="8.8" width="4.2" height="5.6" fill="none" stroke="#6e6e6e" stroke-width="1.3"/><rect x="749.2" y="14.2" width="7" height="1.6" fill="#6e6e6e"/><rect x="752.1" y="15" width="1.2" height="4.5" fill="#6e6e6e"/><path d="M774.5,10 L783,18.5 M783,10 L774.5,18.5" stroke="#6e6e6e" stroke-width="1.5"/></g>
</svg>
<div id="tape">
<div style="position:absolute;left:3px;top:47px;width:388px;height:1px;background:#d8d9de"></div>
<div class="row" style="top:47.5px;background:#eeebe0;color:#8a8a86"><span style="left:0">00:00:00</span><span style="left:96px"></span><span style="left:192px;letter-spacing:0.8px"></span><span style="left:289px"></span></div>
<div class="row" style="top:68.3px;background:#e4e2d6;color:#d23a5a"><span style="left:0">15:06:05</span><span style="left:96px">4990.00</span><span style="left:192px;letter-spacing:0.8px">-</span><span style="left:289px">4.17</span></div>
<div class="row" style="top:89.1px;background:#eeebe0;color:#d23a5a"><span style="left:0">15:06:05</span><span style="left:96px">4990.25</span><span style="left:192px;font-size:12px;letter-spacing:0.4px">+</span><span style="left:289px">2.64</span></div>
<div class="row" style="top:109.9px;background:#e4e2d6;color:#1b8c74"><span style="left:0">15:06:04</span><span style="left:96px">4990.25</span><span style="left:192px;font-size:12px;letter-spacing:0.4px">+</span><span style="left:289px">1.15</span></div>
<div class="row" style="top:130.7px;background:#eeebe0;color:#1b8c74"><span style="left:0">15:06:04</span><span style="left:96px">4990.00</span><span style="left:192px;letter-spacing:0.8px">-</span><span style="left:289px">1.2</span></div>
<div class="row" style="top:151.5px;background:#e4e2d6;color:#d23a5a"><span style="left:0">15:06:04</span><span style="left:96px">4990.00</span><span style="left:192px;letter-spacing:0.8px">-</span><span style="left:289px">1.08</span></div>
<div class="row" style="top:172.3px;background:#eeebe0;color:#d23a5a"><span style="left:0">15:06:04</span><span style="left:96px">4990.00</span><span style="left:192px;letter-spacing:0.8px">-</span><span style="left:289px">3.67</span></div>
<div class="row" style="top:193.1px;background:#e4e2d6;color:#d23a5a"><span style="left:0">15:06:02</span><span style="left:96px">4990.25</span><span style="left:192px;font-size:12px;letter-spacing:0.4px">++</span><span style="left:289px">2</span></div>
<div class="row" style="top:213.9px;background:#eeebe0;color:#d23a5a"><span style="left:0">15:06:02</span><span style="left:96px">4990.25</span><span style="left:192px;font-size:12px;letter-spacing:0.4px">++</span><span style="left:289px">1</span></div>
<div class="row" style="top:234.7px;background:#e4e2d6;color:#1b8c74"><span style="left:0">15:06:02</span><span style="left:96px">4990.25</span><span style="left:192px;font-size:12px;letter-spacing:0.4px">++</span><span style="left:289px">2</span></div>
<div class="row" style="top:255.5px;background:#eeebe0;color:#1b8c74"><span style="left:0">15:06:02</span><span style="left:96px">4990.25</span><span style="left:192px;font-size:12px;letter-spacing:0.4px">++</span><span style="left:289px">1.46</span></div>
<div class="row" style="top:276.3px;background:#e4e2d6;color:#1b8c74"><span style="left:0">15:06:01</span><span style="left:96px">4990.00</span><span style="left:192px;font-size:12px;letter-spacing:0.4px">+</span><span style="left:289px">2.19</span></div>
<div class="row" style="top:297.1px;background:#eeebe0;color:#d23a5a"><span style="left:0">15:06:01</span><span style="left:96px">4990.00</span><span style="left:192px;font-size:12px;letter-spacing:0.4px">+</span><span style="left:289px">2.11</span></div>
<div class="row" style="top:317.9px;background:#e4e2d6;color:#1b8c74"><span style="left:0">15:06:01</span><span style="left:96px">4990.00</span><span style="left:192px;font-size:12px;letter-spacing:0.4px">+</span><span style="left:289px">1.89</span></div>
<div class="row" style="top:338.7px;background:#eeebe0;color:#d23a5a"><span style="left:0">15:05:59</span><span style="left:96px">4989.75</span><span style="left:192px;letter-spacing:0.8px">--</span><span style="left:289px">1.17</span></div>
<div class="row" style="top:359.5px;background:#e4e2d6;color:#d23a5a"><span style="left:0">15:05:59</span><span style="left:96px">4990.00</span><span style="left:192px;letter-spacing:0.8px">-</span><span style="left:289px">1.29</span></div>
<div class="row" style="top:380.3px;background:#eeebe0;color:#1b8c74"><span style="left:0">15:05:58</span><span style="left:96px">4990.25</span><span style="left:192px;font-size:12px;letter-spacing:0.4px">+</span><span style="left:289px">1.43</span></div>
<div class="row" style="top:401.1px;background:#e4e2d6;color:#d23a5a"><span style="left:0">15:05:57</span><span style="left:96px">4990.00</span><span style="left:192px;letter-spacing:0.8px">----</span><span style="left:289px">1.82</span></div>
<div class="row" style="top:421.9px;background:#eeebe0;color:#d23a5a"><span style="left:0">15:05:57</span><span style="left:96px">4990.00</span><span style="left:192px;letter-spacing:0.8px">----</span><span style="left:289px">1.27</span></div>
<div class="row" style="top:442.7px;background:#e4e2d6;color:#d23a5a"><span style="left:0">15:05:57</span><span style="left:96px">4990.25</span><span style="left:192px;letter-spacing:0.8px">---</span><span style="left:289px">3.1</span></div>
<div class="row" style="top:463.5px;background:#eeebe0;color:#d23a5a"><span style="left:0">15:05:57</span><span style="left:96px">4990.25</span><span style="left:192px;letter-spacing:0.8px">---</span><span style="left:289px">7</span></div>
<div class="row" style="top:484.3px;background:#e4e2d6;color:#d23a5a"><span style="left:0">15:05:57</span><span style="left:96px">4990.25</span><span style="left:192px;letter-spacing:0.8px">---</span><span style="left:289px">3.67</span></div>
<div class="row" style="top:505.1px;background:#eeebe0;color:#d23a5a"><span style="left:0">15:05:57</span><span style="left:96px">4990.25</span><span style="left:192px;letter-spacing:0.8px">---</span><span style="left:289px">3.38</span></div>
<div class="row" style="top:525.9px;background:#e4e2d6;color:#d23a5a"><span style="left:0">15:05:57</span><span style="left:96px">4990.25</span><span style="left:192px;letter-spacing:0.8px">---</span><span style="left:289px">1.88</span></div>
<div class="row" style="top:546.7px;background:#eeebe0;color:#d23a5a"><span style="left:0">15:05:52</span><span style="left:96px">4990.25</span><span style="left:192px;letter-spacing:0.8px">---</span><span style="left:289px">2.24</span></div>
<div class="row" style="top:567.5px;background:#e4e2d6;color:#d23a5a"><span style="left:0">15:05:52</span><span style="left:96px">4990.25</span><span style="left:192px;letter-spacing:0.8px">---</span><span style="left:289px">1.13</span></div>
<div class="row" style="top:588.3px;background:#eeebe0;color:#1b8c74"><span style="left:0">15:05:51</span><span style="left:96px">4990.50</span><span style="left:192px;letter-spacing:0.8px">--</span><span style="left:289px">2.14</span></div>
<div class="row" style="top:609.1px;background:#e4e2d6;color:#d23a5a"><span style="left:0">15:05:51</span><span style="left:96px">4990.50</span><span style="left:192px;letter-spacing:0.8px">--</span><span style="left:289px">4.41</span></div>
<div class="row" style="top:629.9px;background:#eeebe0;color:#d23a5a"><span style="left:0">15:05:50</span><span style="left:96px">4990.50</span><span style="left:192px;letter-spacing:0.8px">--</span><span style="left:289px">2.5</span></div>
<div class="row" style="top:650.7px;background:#e4e2d6;color:#d23a5a"><span style="left:0">15:05:49</span><span style="left:96px">4990.50</span><span style="left:192px;letter-spacing:0.8px">--</span><span style="left:289px">2.73</span></div>
<div class="row" style="top:671.5px;background:#eeebe0;color:#d23a5a"><span style="left:0">15:05:49</span><span style="left:96px">4990.50</span><span style="left:192px;letter-spacing:0.8px">--</span><span style="left:289px">2.23</span></div>
<div class="row" style="top:692.3px;background:#e4e2d6;color:#1b8c74"><span style="left:0">15:05:49</span><span style="left:96px">4990.75</span><span style="left:192px;letter-spacing:0.8px">-</span><span style="left:289px">3.6</span></div>
<div class="row" style="top:713.1px;background:#eeebe0;color:#d23a5a"><span style="left:0">15:05:49</span><span style="left:96px">4990.75</span><span style="left:192px;letter-spacing:0.8px">-</span><span style="left:289px">1.67</span></div>
<div class="row" style="top:733.9px;background:#e4e2d6;color:#d23a5a"><span style="left:0">15:05:47</span><span style="left:96px">4991.00</span><span style="left:192px;font-size:12px;letter-spacing:0.4px">+</span><span style="left:289px">2.09</span></div>
<div class="row" style="top:754.7px;background:#eeebe0;color:#1b8c74"><span style="left:0">15:05:47</span><span style="left:96px">4991.00</span><span style="left:192px;font-size:12px;letter-spacing:0.4px">+</span><span style="left:289px">1.33</span></div>
<div class="row" style="top:775.5px;background:#e4e2d6;color:#d23a5a"><span style="left:0">15:05:46</span><span style="left:96px">4990.75</span><span style="left:192px;letter-spacing:0.8px">---</span><span style="left:289px">2.75</span></div>
<div class="row" style="top:796.3px;background:#eeebe0;color:#1b8c74"><span style="left:0">15:05:46</span><span style="left:96px">4990.75</span><span style="left:192px;letter-spacing:0.8px">---</span><span style="left:289px">1.67</span></div>
<div class="row" style="top:817.1px;background:#e4e2d6;color:#d23a5a"><span style="left:0">15:05:46</span><span style="left:96px">4990.75</span><span style="left:192px;letter-spacing:0.8px">---</span><span style="left:289px">1</span></div>
<div class="row" style="top:837.9px;background:#eeebe0;color:#1b8c74"><span style="left:0">15:05:45</span><span style="left:96px">4990.75</span><span style="left:192px;letter-spacing:0.8px">---</span><span style="left:289px">1.47</span></div>
<div class="row" style="top:858.7px;background:#e4e2d6;color:#d23a5a"><span style="left:0">15:05:44</span><span style="left:96px">4990.75</span><span style="left:192px;letter-spacing:0.8px">---</span><span style="left:289px">1.38</span></div>
<div class="row" style="top:879.5px;background:#eeebe0;color:#1b8c74;line-height:17px"><span style="left:0">15:05:44</span><span style="left:96px">4991.00</span><span style="left:192px;letter-spacing:0.8px">---</span><span style="left:289px">1.71</span></div>
<div class="hdr" style="left:3px;width:96px">Time</div>
<div class="hdr" style="left:99px;width:96px">Price</div>
<div class="hdr" style="left:195px;width:97px">+/-</div>
<div class="hdr" style="left:292px;width:98px">Avg</div>
<div class="vd" style="left:99px"></div>
<div class="vd" style="left:195px"></div>
<div class="vd" style="left:292px"></div>
<div class="vd" style="left:390px;height:859px;background:#d5d6dc"></div>
<div style="position:absolute;left:101px;top:9px;font-size:11.3px;color:#4a4a4a;line-height:12px;white-space:nowrap">Smart Tape - #ESH4@CME</div>
<svg width="407" height="885" viewBox="797 0 407 885" style="position:absolute;left:0;top:0">
<rect x="1002.5" y="232.5" width="169" height="66" rx="3" ry="3" fill="none" stroke="#3f9a2e" stroke-width="2"/>
<line x1="1010" y1="399.5" x2="1085" y2="399.5" stroke="#000" stroke-width="2.2"/>
<line x1="1014" y1="404" x2="1037" y2="724" stroke="#000" stroke-width="2"/>
<line x1="1082.5" y1="401" x2="1053" y2="706.5" stroke="#000" stroke-width="2"/>
<polygon points="802.70,13.50 806.60,6.70 814.70,6.70 818.70,13.50 814.70,20.30 806.60,20.30" fill="#1a1a1a"/>
<polygon points="805.00,13.50 807.80,8.60 813.50,8.60 816.40,13.50 813.50,18.40 807.80,18.40" fill="#f4f4f6"/>
<polygon points="803.70,13.50 806.00,9.90 811.60,10.00 807.30,17.40 806.30,17.40" fill="#1a1a1a"/>
<polygon points="813.60,11.30 810.00,17.10 816.30,16.70" fill="#1a1a1a"/>
<path d="M836.10,6.90 L836.10,18.90 M831.25,10.10 L840.95,15.70 M840.95,10.10 L831.25,15.70" stroke="#333" stroke-width="1.4"/>
<circle cx="840.78" cy="15.60" r="1.1" fill="#333"/>
<circle cx="836.10" cy="18.30" r="1.1" fill="#333"/>
<circle cx="831.42" cy="15.60" r="1.1" fill="#333"/>
<circle cx="831.42" cy="10.20" r="1.1" fill="#333"/>
<circle cx="836.10" cy="7.50" r="1.1" fill="#333"/>
<circle cx="840.78" cy="10.20" r="1.1" fill="#333"/>
<circle cx="836.1" cy="12.9" r="2.3" fill="#777" stroke="#333" stroke-width="1.2"/>
<circle cx="1103.3" cy="13.3" r="7" fill="none" stroke="#9a9a9a" stroke-width="1"/>
<path d="M1117.6,12.2 L1125,12.2 L1121.3,16 Z" fill="#222"/>
<g transform="translate(414.5,0)"><path d="M719.5,13.4 L724,9.8" stroke="#222" stroke-width="2.6" stroke-linecap="round"/><path d="M722,11.5 L728.6,19.2" stroke="#222" stroke-width="1.5"/><path d="M722.6,18.6 L729,12.4" stroke="#222" stroke-width="2.4" stroke-linecap="round"/><path d="M727.6,10.2 L729.3,12.2 L731.3,10.6" stroke="#222" stroke-width="1.4" fill="none"/><rect x="750.6" y="8.8" width="4.2" height="5.6" fill="none" stroke="#222" stroke-width="1.3"/><rect x="749.2" y="14.2" width="7" height="1.6" fill="#222"/><rect x="752.1" y="15" width="1.2" height="4.5" fill="#222"/><path d="M774.5,10 L783,18.5 M783,10 L774.5,18.5" stroke="#222" stroke-width="1.5"/></g>
<path d="M1193,57 L1201,57 L1197,53 Z" fill="#222"/>
<path d="M1193,878 L1201,878 L1197,882 Z" fill="#222"/>
<rect x="1192" y="313" width="10" height="8" fill="#c8cad8"/>
</svg>
<div class="bl"></div><div class="bt"></div><div class="ct"></div><div class="cl"></div>
</div>
</body></html>
